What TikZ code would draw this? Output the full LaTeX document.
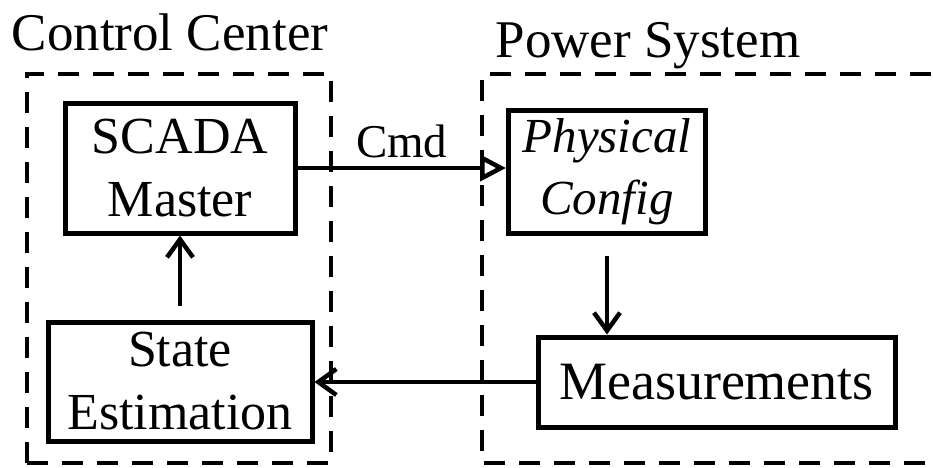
\documentclass[tikz,border=0pt]{standalone}
\usepackage{fontspec}
\setmainfont{Liberation Serif}
\usetikzlibrary{arrows.meta}
\begin{document}
\begin{tikzpicture}[x=1pt,y=-1pt,
  block/.style={draw,line width=5pt,inner sep=0pt,align=center,
    font=\fontsize{52}{63}\selectfont},
  group/.style={draw,line width=4.5pt,dash pattern=on 21pt off 14pt},
  title/.style={inner sep=0pt,font=\fontsize{53}{63}\selectfont},
  flow/.style={line width=4.5pt,-{Straight Barb[length=18pt,width=26pt,line width=4.5pt]}},
  cmdflow/.style={line width=4.5pt,-{Triangle[open,length=26pt,width=26pt,line width=4.5pt]}}]
\useasboundingbox (0,0) rectangle (933,467);

% dashed groups
\draw[group] (27,463) -- (27,74) -- (331,74) -- (331,463) -- cycle;
\draw[group] (960,463) -- (482,463) -- (482,74) -- (960,74);

% group titles
\node[title,anchor=base] (cc) at (170,50) {Control Center};
\node[title,anchor=base] (ps) at (648,57) {Power System};

% blocks
\node[block,minimum width=230pt,minimum height=130pt] (scada) at (180,168) {SCADA\\Master};
\node[block,minimum width=197pt,minimum height=123pt,font=\fontsize{49}{62}\selectfont\itshape] (phys) at (607,171.5) {Physical\\Config};
\node[block,minimum width=264pt,minimum height=119pt] (se) at (180,381.5) {State\\Estimation};
\node[block,minimum width=357pt,minimum height=90pt,font=\fontsize{54}{63}\selectfont] (meas) at (716.5,382) {Measurements};

% connectors
\draw[cmdflow] (scada.east) -- (scada.east -| phys.west)
  node[midway,above=8pt,inner sep=0pt,font=\fontsize{47}{56}\selectfont] (cmd) {Cmd};
\draw[flow,shorten <=20pt] (phys.south) -- (phys.south |- meas.north);
\draw[flow] (meas.west) -- (meas.west -| se.east);
\draw[flow,shorten <=14pt] (se.north) -- (scada.south);
\end{tikzpicture}
\end{document}
